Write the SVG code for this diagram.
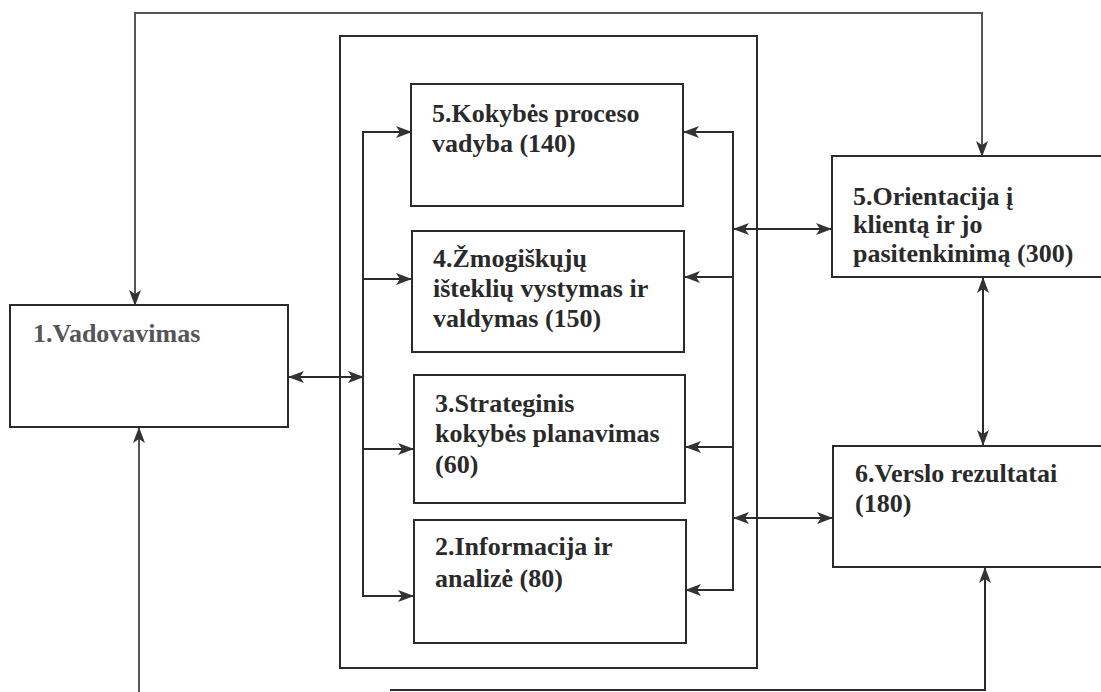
<svg xmlns="http://www.w3.org/2000/svg" width="1101" height="692" viewBox="0 0 1101 692">
<style>
.box{fill:#fff;stroke:#2b2b2b;stroke-width:2}
.frame{fill:none;stroke:#2b2b2b;stroke-width:2}
.ln{fill:none;stroke:#2b2b2b;stroke-width:2}
.ln2{fill:none;stroke:#555;stroke-width:2}
.t{font-family:"Liberation Serif","Times New Roman",serif;font-weight:bold;font-size:26px;fill:#2a2a2a}
.tg{fill:#555}
</style>
<defs>
<marker id="ah" markerUnits="userSpaceOnUse" markerWidth="16" markerHeight="12" viewBox="0 0 16 12" refX="15" refY="6" orient="auto-start-reverse">
<path d="M0,0 L16,6 L0,12 L4,6 Z" fill="#333"/>
</marker>
</defs>
<rect width="1101" height="692" fill="#fff"/>
<g id="frame"><rect class="frame" x="340" y="36" width="417" height="632"/></g>
<g id="connectors">
<path class="ln2" d="M139,692 L139,428" marker-end="url(#ah)"/>
<path class="ln2" d="M135,305 L135,13 L982,13 L982,156" marker-start="url(#ah)" marker-end="url(#ah)"/>
<path class="ln" d="M390,690 L985,690 L985,568" marker-end="url(#ah)"/>
<path class="ln" d="M289,377 L363,377" marker-start="url(#ah)" marker-end="url(#ah)"/>
<path class="ln" d="M411,132 L363,132 L363,596 L413,596" marker-start="url(#ah)" marker-end="url(#ah)"/>
<path class="ln" d="M363,279 L411,279" marker-end="url(#ah)"/>
<path class="ln" d="M363,449 L413,449" marker-end="url(#ah)"/>
<path class="ln" d="M684,132 L733,132 L733,590 L686,590" marker-start="url(#ah)" marker-end="url(#ah)"/>
<path class="ln" d="M733,277 L685,277" marker-end="url(#ah)"/>
<path class="ln" d="M733,447 L686,447" marker-end="url(#ah)"/>
<path class="ln" d="M734,229 L831,229" marker-start="url(#ah)" marker-end="url(#ah)"/>
<path class="ln" d="M734,518 L832,518" marker-start="url(#ah)" marker-end="url(#ah)"/>
<path class="ln" d="M983,278 L983,445" marker-start="url(#ah)" marker-end="url(#ah)"/>
</g>
<g id="n1">
<rect class="box" x="10" y="305" width="278" height="122"/>
<text class="t tg" x="33" y="342">1.Vadovavimas</text>
</g>
<g id="n5a">
<rect class="box" x="411" y="84" width="272" height="122"/>
<text class="t" x="432" y="122">5.Kokybės proceso</text>
<text class="t" x="432" y="152">vadyba (140)</text>
</g>
<g id="n4">
<rect class="box" x="412" y="231" width="272" height="121"/>
<text class="t" x="433" y="267">4.Žmogiškųjų</text>
<text class="t" x="433" y="297">išteklių vystymas ir</text>
<text class="t" x="433" y="327">valdymas (150)</text>
</g>
<g id="n3">
<rect class="box" x="414" y="375" width="271" height="128"/>
<text class="t" x="435" y="412">3.Strateginis</text>
<text class="t" x="435" y="442">kokybės planavimas</text>
<text class="t" x="435" y="473">(60)</text>
</g>
<g id="n2">
<rect class="box" x="414" y="520" width="272" height="123"/>
<text class="t" x="435" y="555">2.Informacija ir</text>
<text class="t" x="435" y="587">analizė (80)</text>
</g>
<g id="n5b">
<rect class="box" x="832" y="156" width="280" height="121"/>
<text class="t" x="853" y="205">5.Orientacija į</text>
<text class="t" x="853" y="233">klientą ir jo</text>
<text class="t" x="853" y="262">pasitenkinimą (300)</text>
</g>
<g id="n6">
<rect class="box" x="833" y="446" width="280" height="121"/>
<text class="t" x="855" y="482">6.Verslo rezultatai</text>
<text class="t" x="855" y="512">(180)</text>
</g>
</svg>
